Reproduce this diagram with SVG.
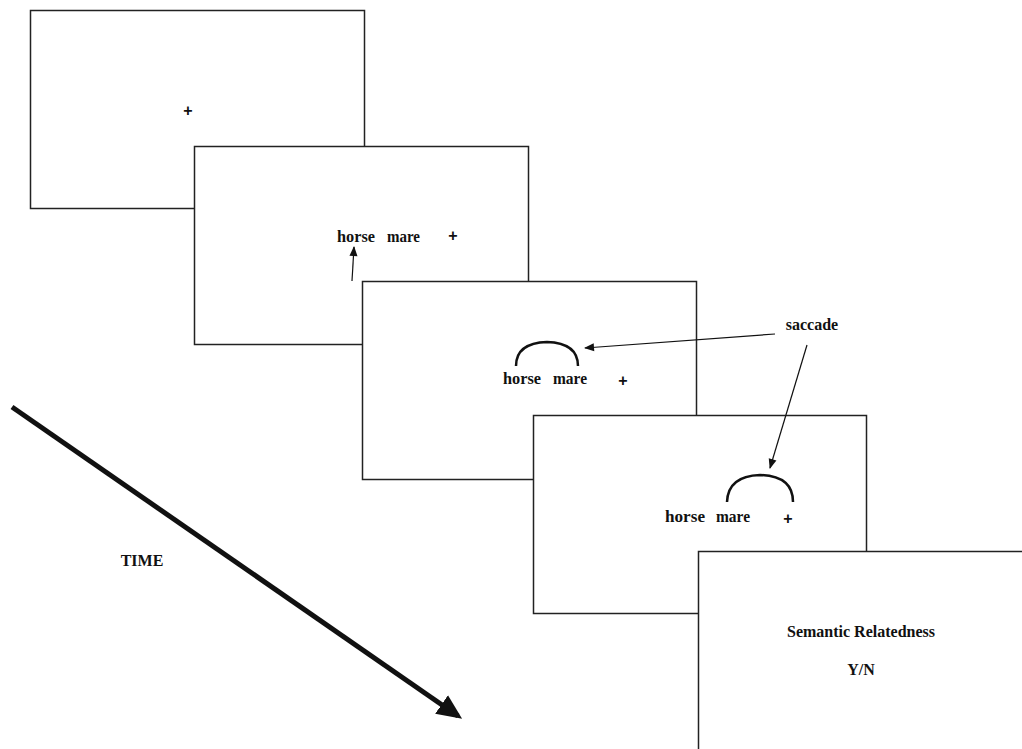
<svg xmlns="http://www.w3.org/2000/svg" width="1022" height="749" viewBox="0 0 1022 749">
<defs>
<style>
.box{fill:#fff;stroke:#222;stroke-width:1.5}
.t{font-family:"Liberation Serif","Times New Roman",serif;font-weight:bold;font-size:16px;fill:#111}
.p{font-family:"Liberation Sans",Arial,sans-serif;font-weight:bold;font-size:16px;fill:#111}
.ln{fill:none;stroke:#111;stroke-width:1.2}
.arc{fill:none;stroke:#111;stroke-width:2.5}
</style>
<marker id="ah" viewBox="0 0 10 10" refX="9" refY="5" markerWidth="11" markerHeight="10" markerUnits="userSpaceOnUse" orient="auto">
<path d="M0,1 L10,5 L0,9 Z" fill="#111"/>
</marker>
<marker id="bh" viewBox="0 0 10 10" refX="8" refY="5" markerWidth="5" markerHeight="5" orient="auto">
<path d="M0,0.5 L10,5 L0,9.5 Z" fill="#111"/>
</marker>
</defs>
<rect width="1022" height="749" fill="#fff"/>
<g id="screen1">
<rect class="box" x="30.5" y="10.5" width="334" height="198"/>
<text class="p" x="188" y="116" text-anchor="middle">+</text>
</g>
<g id="screen2">
<rect class="box" x="194.5" y="146.5" width="334" height="198"/>
<text class="t" x="337" y="242" textLength="38" lengthAdjust="spacingAndGlyphs">horse</text>
<text class="t" x="387" y="242" textLength="33" lengthAdjust="spacingAndGlyphs">mare</text>
<text class="p" x="453" y="241" text-anchor="middle">+</text>
</g>
<g id="screen3">
<rect class="box" x="362.5" y="281.5" width="334" height="198"/>
<path class="arc" d="M516,366 Q516,343 547,342 Q578,343 578,366"/>
<text class="t" x="503" y="384" textLength="38" lengthAdjust="spacingAndGlyphs">horse</text>
<text class="t" x="553" y="384" textLength="34" lengthAdjust="spacingAndGlyphs">mare</text>
<text class="p" x="623" y="386" text-anchor="middle">+</text>
</g>
<g id="screen4">
<rect class="box" x="533.5" y="415.5" width="333" height="198"/>
<path class="arc" d="M727,502 Q728,476 760,475 Q793,476 793,502"/>
<text class="t" x="665" y="522" textLength="40" lengthAdjust="spacingAndGlyphs">horse</text>
<text class="t" x="716" y="522" textLength="34" lengthAdjust="spacingAndGlyphs">mare</text>
<text class="p" x="788" y="524" text-anchor="middle">+</text>
</g>
<g id="screen5">
<rect class="box" x="698.5" y="551.5" width="330" height="204"/>
<text class="t" x="861" y="637" text-anchor="middle">Semantic Relatedness</text>
<text class="t" x="861" y="675" text-anchor="middle">Y/N</text>
</g>
<g id="saccade-label">
<text class="t" x="812" y="330" text-anchor="middle">saccade</text>
</g>
<g id="time-label">
<text class="t" x="142" y="566" text-anchor="middle">TIME</text>
</g>
<g id="connectors">
<line class="ln" x1="352" y1="281" x2="354" y2="247" marker-end="url(#ah)"/>
<line class="ln" x1="775" y1="334" x2="585" y2="348" marker-end="url(#ah)"/>
<line class="ln" x1="807" y1="345" x2="770" y2="468" marker-end="url(#ah)"/>
<line x1="12" y1="407" x2="458" y2="716" stroke="#111" stroke-width="5" marker-end="url(#bh)"/>
</g>
</svg>
